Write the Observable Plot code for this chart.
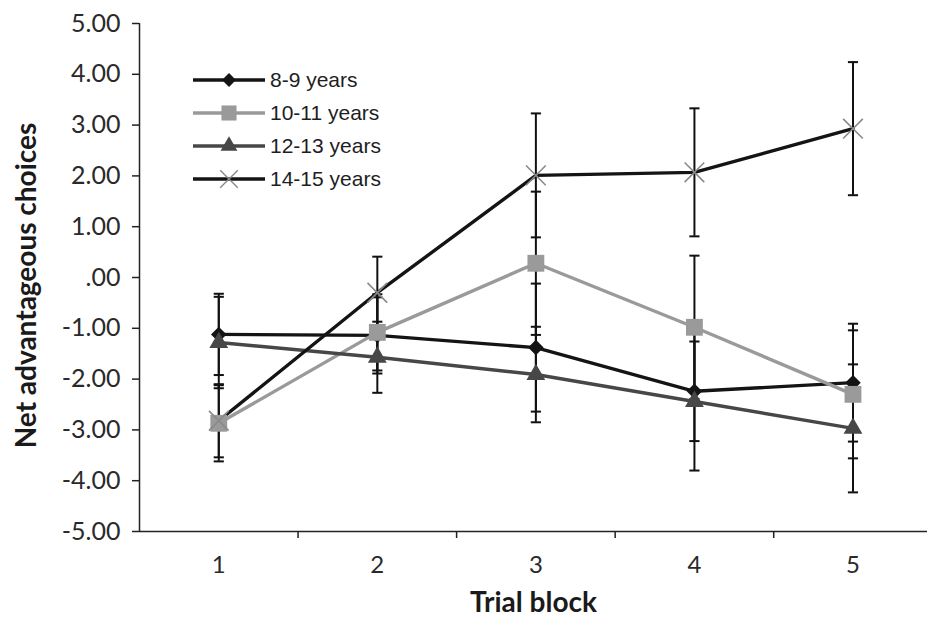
<!DOCTYPE html>
<html>
<head>
<meta charset="utf-8">
<script src="https://cdn.jsdelivr.net/npm/d3@7"></script>
<script src="https://cdn.jsdelivr.net/npm/@observablehq/plot@0.6"></script>
<style>
  html, body { margin: 0; padding: 0; background: #fff; }
  #wrap { position: relative; width: 927px; height: 618px; }
  #legend { position: absolute; left: 193px; top: 63px; font-family: "Liberation Sans", Arial, sans-serif; font-size: 21px; color: #1e1e1e; }
  .row { display: flex; align-items: center; height: 33px; }
  .row svg { display: block; margin-right: 3px; }
</style>
</head>
<body>
<div id="wrap"><div id="legend"></div></div>
<script>
const blocks = [1, 2, 3, 4, 5];
const seriesNames = ["8-9 years", "10-11 years", "12-13 years", "14-15 years"];
const means8  = [-1.12, -1.14, -1.38, -2.24, -2.07];
const se8     = [0.80, 0.75, 1.26, 0.98, 1.16];
const means10 = [-2.87, -1.08, 0.28, -0.98, -2.30];
const se10    = [0.75, 0.75, 1.41, 1.41, 1.26];
const means12 = [-1.28, -1.57, -1.91, -2.44, -2.97];
const se12    = [0.90, 0.70, 0.94, 1.36, 1.26];
const means14 = [-2.82, -0.30, 2.01, 2.07, 2.93];
const se14    = [0.72, 0.71, 1.22, 1.26, 1.31];
const yTicks = [-5, -4, -3, -2, -1, 0, 1, 2, 3, 4, 5];
const blockBounds = [1.5, 2.5, 3.5, 4.5];

const lineColors = ["#141414", "#9a9a9a", "#474747", "#141414"];
const markerFill = ["#141414", "#9a9a9a", "#474747", "none"];
const markerStroke = ["none", "none", "none", "#8a8a8a"];
const symbols = ["diamond2", "square", "triangle", "times"];
const radii = [7, 9.5, 7, 9];

const allMeans = [means8, means10, means12, means14];
const allSe = [se8, se10, se12, se14];
const rows = seriesNames.flatMap((s, i) => blocks.map((b, j) => ({
  series: s, idx: i, block: b, mean: allMeans[i][j], se: allSe[i][j]
})));

const fmt = d => d === 0 ? ".00" : d.toFixed(2);
const capW = 0.032;

const marks = [
  Plot.ruleX(rows, {x: "block", y1: d => d.mean - d.se, y2: d => d.mean + d.se, stroke: "#111", strokeWidth: 2}),
  Plot.link(rows, {x1: d => d.block - capW, x2: d => d.block + capW, y1: d => d.mean - d.se, y2: d => d.mean - d.se, stroke: "#111", strokeWidth: 2}),
  Plot.link(rows, {x1: d => d.block - capW, x2: d => d.block + capW, y1: d => d.mean + d.se, y2: d => d.mean + d.se, stroke: "#111", strokeWidth: 2}),
  Plot.line(rows, {x: "block", y: "mean", z: "series", stroke: "series", strokeWidth: 3.4}),
];
seriesNames.forEach((s, i) => {
  marks.push(Plot.dot(rows.filter(d => d.idx === i), {
    x: "block", y: "mean", symbol: symbols[i], r: radii[i],
    fill: markerFill[i], stroke: markerStroke[i], strokeWidth: i === 3 ? 1.6 : 0
  }));
});
marks.push(
  Plot.ruleX([0.5], {stroke: "#222", strokeWidth: 1.5}),
  Plot.ruleY([-5], {stroke: "#222", strokeWidth: 1.5}),
  Plot.axisY({ticks: yTicks, tickSize: 7, tickPadding: 12, tickFormat: fmt, label: null, stroke: "#222", strokeWidth: 1.5, fontSize: 25, fill: "#2a2a2a"}),
  Plot.axisX({ticks: blockBounds, tickSize: 7, tickFormat: () => "", label: null, stroke: "#222", strokeWidth: 1.5}),
  Plot.axisX({ticks: blocks, tickSize: 0, tickPadding: 24, tickFormat: d => String(d), label: null, fontSize: 24, fill: "#2a2a2a"}),
  Plot.text(["Net advantageous choices"], {frameAnchor: "left", textAnchor: "middle", dx: -112, dy: 8, rotate: -90, fontSize: 28, fontWeight: "bold", fill: "#1a1a1a"}),
  Plot.text(["Trial block"], {frameAnchor: "bottom", textAnchor: "middle", dy: 80, fontSize: 28, fontWeight: "bold", fill: "#1a1a1a"})
);

const chart = Plot.plot({
  width: 927, height: 618,
  marginLeft: 139, marginRight: 0, marginTop: 23, marginBottom: 87,
  style: {fontFamily: "Lato, 'Open Sans', sans-serif", background: "#fff"},
  x: {domain: [0.5, 5.47], axis: null},
  y: {domain: [-5, 5], axis: null},
  color: {domain: seriesNames, range: lineColors},
  marks
});
document.getElementById("wrap").prepend(chart);

// legend
const legend = d3.select("#legend");
const symMap = {diamond2: d3.symbolDiamond2, square: d3.symbolSquare, triangle: d3.symbolTriangle, times: d3.symbolTimes};
seriesNames.forEach((s, i) => {
  const row = legend.append("div").attr("class", "row");
  const svg = row.append("svg").attr("width", 74).attr("height", 20);
  svg.append("line").attr("x1", 0).attr("x2", 72).attr("y1", 10).attr("y2", 10)
    .attr("stroke", lineColors[i]).attr("stroke-width", 3.4);
  svg.append("path").attr("transform", "translate(36,10)")
    .attr("d", d3.symbol(symMap[symbols[i]], Math.PI * radii[i] * radii[i] * 0.8)())
    .attr("fill", markerFill[i]).attr("stroke", markerStroke[i]).attr("stroke-width", i === 3 ? 1.4 : 0);
  row.append("span").text(s);
});
</script>
</body>
</html>
